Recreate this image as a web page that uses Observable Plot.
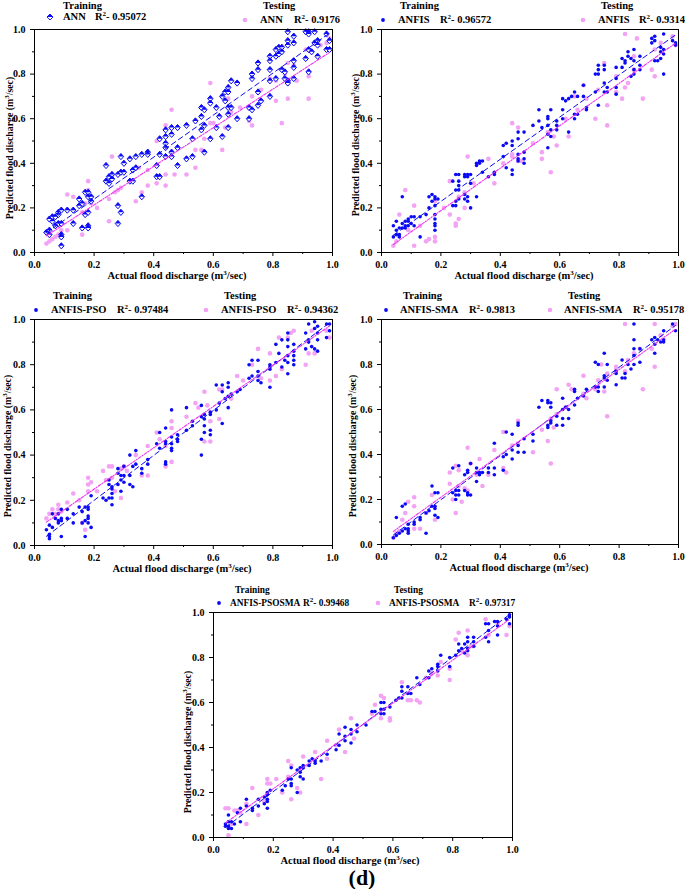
<!DOCTYPE html>
<html>
<head>
<meta charset="utf-8">
<script src="https://cdn.jsdelivr.net/npm/d3@7"></script>
<script src="https://cdn.jsdelivr.net/npm/@observablehq/plot@0.6"></script>
<style>
  html, body { margin: 0; padding: 0; background: #fff; }
  body { width: 685px; height: 889px; position: relative; overflow: hidden;
         font-family: "Liberation Serif", "Times New Roman", serif; font-weight: bold; color: #000; }
  .t { position: absolute; white-space: nowrap; font-size: 10.5px; line-height: 12px; transform: translateY(-50%); }
  .t.small { font-size: 9.4px; }
  .t sup { font-size: 7px; vertical-align: 4px; line-height: 0; }
  .ylab { position: absolute; white-space: nowrap; font-size: 9.8px; line-height: 10px; transform: translate(-50%, -50%) rotate(-90deg); }
  .xlab { position: absolute; white-space: nowrap; font-size: 10.5px; line-height: 10px; transform: translate(-50%, -50%); }
  .xlab sup, .ylab sup { font-size: 7px; vertical-align: 4px; line-height: 0; }
  svg.panel { position: absolute; }
  .mk { position: absolute; }
</style>
</head>
<body>
<script>
// ---------------- data ----------------
const modelNames = ["ANN", "ANFIS", "ANFIS-PSO", "ANFIS-SMA", "ANFIS-PSOSMA"];
const r2Train = ["0.95072", "0.96572", "0.97484", "0.9813", "0.99468"];
const r2Test = ["0.9176", "0.9314", "0.94362", "0.95178", "0.97317"];
const majorTicks = [0.0, 0.2, 0.4, 0.6, 0.8, 1.0];
const minorTicks = [0.1, 0.3, 0.5, 0.7, 0.9];

const annTrain = [[0.04,0.09],[0.05,0.10],[0.05,0.08],[0.05,0.15],[0.06,0.14],[0.06,0.16],[0.07,0.16],[0.07,0.12],[0.08,0.17],[0.08,0.13],[0.08,0.18],[0.09,0.19],[0.09,0.13],[0.09,0.08],[0.09,0.07],[0.09,0.03],[0.11,0.19],[0.13,0.19],[0.13,0.13],[0.15,0.21],[0.15,0.24],[0.16,0.22],[0.16,0.11],[0.17,0.27],[0.17,0.17],[0.18,0.27],[0.18,0.25],[0.18,0.18],[0.18,0.12],[0.18,0.11],[0.19,0.25],[0.19,0.23],[0.24,0.32],[0.24,0.39],[0.25,0.31],[0.25,0.34],[0.26,0.35],[0.26,0.33],[0.28,0.35],[0.28,0.21],[0.28,0.13],[0.29,0.43],[0.29,0.36],[0.29,0.18],[0.30,0.40],[0.30,0.36],[0.32,0.42],[0.32,0.32],[0.33,0.32],[0.33,0.37],[0.34,0.43],[0.34,0.38],[0.36,0.44],[0.36,0.25],[0.38,0.45],[0.38,0.44],[0.41,0.39],[0.41,0.34],[0.42,0.51],[0.42,0.44],[0.42,0.34],[0.44,0.55],[0.44,0.52],[0.44,0.49],[0.44,0.47],[0.44,0.43],[0.46,0.56],[0.46,0.53],[0.46,0.45],[0.46,0.43],[0.48,0.56],[0.48,0.47],[0.48,0.39],[0.51,0.57],[0.51,0.42],[0.53,0.51],[0.53,0.43],[0.54,0.59],[0.56,0.65],[0.56,0.61],[0.56,0.55],[0.57,0.64],[0.57,0.57],[0.57,0.45],[0.59,0.69],[0.59,0.67],[0.59,0.51],[0.61,0.65],[0.61,0.56],[0.62,0.61],[0.63,0.70],[0.63,0.52],[0.64,0.72],[0.64,0.68],[0.65,0.74],[0.65,0.72],[0.65,0.65],[0.65,0.62],[0.65,0.56],[0.66,0.77],[0.66,0.65],[0.68,0.76],[0.68,0.60],[0.72,0.65],[0.72,0.60],[0.73,0.80],[0.73,0.78],[0.73,0.64],[0.75,0.85],[0.75,0.82],[0.75,0.72],[0.75,0.66],[0.76,0.68],[0.79,0.88],[0.79,0.86],[0.79,0.82],[0.79,0.77],[0.79,0.70],[0.81,0.91],[0.81,0.88],[0.81,0.78],[0.82,0.92],[0.82,0.89],[0.83,0.92],[0.83,0.90],[0.83,0.82],[0.84,0.81],[0.84,0.78],[0.85,0.99],[0.85,0.95],[0.85,0.93],[0.85,0.77],[0.85,0.76],[0.87,0.97],[0.87,0.94],[0.87,0.86],[0.87,0.83],[0.87,0.78],[0.91,0.99],[0.91,0.87],[0.92,0.99],[0.92,0.98],[0.92,0.91],[0.92,0.81],[0.93,0.90],[0.94,0.99],[0.94,0.94],[0.95,0.95],[0.95,0.93],[0.95,0.88],[0.98,0.98],[0.98,0.91],[0.99,0.95],[0.99,0.91]];
const annTest = [[0.04,0.04],[0.05,0.05],[0.06,0.06],[0.07,0.07],[0.08,0.08],[0.09,0.10],[0.11,0.26],[0.11,0.10],[0.13,0.25],[0.16,0.08],[0.16,0.18],[0.17,0.22],[0.18,0.32],[0.18,0.28],[0.19,0.22],[0.21,0.20],[0.25,0.24],[0.25,0.14],[0.26,0.43],[0.27,0.27],[0.28,0.28],[0.29,0.29],[0.32,0.42],[0.34,0.23],[0.35,0.38],[0.36,0.27],[0.38,0.37],[0.38,0.30],[0.41,0.31],[0.41,0.50],[0.44,0.57],[0.44,0.35],[0.44,0.30],[0.46,0.64],[0.47,0.35],[0.51,0.35],[0.54,0.38],[0.54,0.46],[0.56,0.46],[0.57,0.51],[0.59,0.76],[0.59,0.58],[0.60,0.58],[0.63,0.46],[0.64,0.56],[0.65,0.69],[0.66,0.63],[0.68,0.76],[0.69,0.65],[0.72,0.59],[0.73,0.57],[0.73,0.70],[0.75,0.72],[0.76,0.73],[0.79,0.78],[0.81,0.77],[0.81,0.68],[0.83,0.58],[0.84,0.80],[0.85,0.85],[0.85,0.69],[0.87,0.84],[0.88,0.77],[0.91,0.91],[0.92,0.69],[0.92,0.79],[0.93,0.90],[0.96,0.93],[0.98,0.94],[0.99,0.96]];

const anfisTrain = [[0.04,0.12],[0.04,0.07],[0.05,0.14],[0.05,0.10],[0.05,0.08],[0.06,0.08],[0.06,0.07],[0.06,0.11],[0.07,0.25],[0.07,0.13],[0.07,0.11],[0.08,0.14],[0.08,0.12],[0.08,0.11],[0.09,0.15],[0.09,0.14],[0.09,0.12],[0.10,0.16],[0.10,0.13],[0.11,0.16],[0.11,0.12],[0.13,0.16],[0.13,0.07],[0.15,0.17],[0.16,0.25],[0.16,0.20],[0.17,0.26],[0.17,0.23],[0.18,0.25],[0.18,0.24],[0.18,0.21],[0.18,0.17],[0.18,0.15],[0.18,0.13],[0.18,0.12],[0.18,0.10],[0.19,0.24],[0.24,0.32],[0.24,0.21],[0.25,0.35],[0.25,0.28],[0.25,0.23],[0.25,0.21],[0.26,0.35],[0.26,0.32],[0.26,0.30],[0.26,0.28],[0.26,0.24],[0.28,0.35],[0.28,0.34],[0.28,0.26],[0.28,0.24],[0.29,0.35],[0.29,0.34],[0.29,0.25],[0.29,0.23],[0.30,0.35],[0.30,0.31],[0.30,0.20],[0.32,0.40],[0.32,0.39],[0.32,0.25],[0.33,0.41],[0.33,0.40],[0.34,0.41],[0.34,0.36],[0.36,0.34],[0.38,0.36],[0.38,0.35],[0.41,0.48],[0.41,0.43],[0.42,0.49],[0.42,0.38],[0.44,0.50],[0.44,0.48],[0.44,0.37],[0.44,0.35],[0.46,0.54],[0.46,0.51],[0.46,0.44],[0.46,0.42],[0.46,0.41],[0.48,0.54],[0.48,0.45],[0.48,0.42],[0.48,0.40],[0.51,0.57],[0.53,0.64],[0.53,0.59],[0.54,0.56],[0.56,0.61],[0.56,0.60],[0.56,0.57],[0.56,0.53],[0.56,0.47],[0.57,0.64],[0.57,0.55],[0.57,0.52],[0.59,0.59],[0.59,0.57],[0.59,0.55],[0.61,0.69],[0.61,0.64],[0.61,0.60],[0.62,0.68],[0.63,0.69],[0.63,0.54],[0.64,0.70],[0.65,0.72],[0.65,0.62],[0.65,0.60],[0.66,0.70],[0.66,0.62],[0.68,0.75],[0.68,0.70],[0.69,0.65],[0.69,0.64],[0.72,0.80],[0.72,0.72],[0.73,0.84],[0.73,0.82],[0.73,0.80],[0.73,0.66],[0.75,0.84],[0.75,0.82],[0.75,0.76],[0.75,0.72],[0.76,0.74],[0.76,0.72],[0.79,0.83],[0.79,0.78],[0.79,0.74],[0.79,0.71],[0.81,0.87],[0.81,0.83],[0.82,0.86],[0.82,0.85],[0.83,0.90],[0.83,0.88],[0.84,0.87],[0.84,0.79],[0.85,0.91],[0.85,0.86],[0.85,0.82],[0.85,0.80],[0.87,0.88],[0.87,0.84],[0.87,0.82],[0.91,0.96],[0.91,0.94],[0.92,0.97],[0.92,0.95],[0.92,0.86],[0.93,0.86],[0.94,0.92],[0.94,0.90],[0.94,0.87],[0.95,0.98],[0.95,0.91],[0.95,0.89],[0.95,0.80],[0.98,0.95],[0.99,0.94],[0.99,0.93]];
const anfisTest = [[0.04,0.03],[0.05,0.05],[0.06,0.17],[0.08,0.28],[0.09,0.10],[0.11,0.21],[0.11,0.03],[0.13,0.12],[0.15,0.05],[0.16,0.06],[0.18,0.23],[0.18,0.07],[0.18,0.05],[0.21,0.20],[0.23,0.32],[0.23,0.17],[0.25,0.13],[0.25,0.12],[0.26,0.15],[0.26,0.25],[0.28,0.20],[0.28,0.27],[0.29,0.43],[0.31,0.31],[0.36,0.42],[0.38,0.31],[0.41,0.40],[0.44,0.58],[0.44,0.44],[0.44,0.43],[0.46,0.56],[0.46,0.41],[0.47,0.41],[0.51,0.49],[0.54,0.45],[0.54,0.42],[0.56,0.54],[0.57,0.36],[0.58,0.52],[0.59,0.48],[0.62,0.60],[0.63,0.52],[0.65,0.70],[0.66,0.64],[0.68,0.75],[0.69,0.69],[0.72,0.60],[0.73,0.73],[0.75,0.85],[0.76,0.66],[0.76,0.57],[0.79,0.79],[0.79,0.72],[0.81,0.69],[0.82,0.98],[0.82,0.74],[0.83,0.76],[0.85,0.88],[0.85,0.82],[0.86,0.96],[0.88,0.69],[0.91,0.82],[0.92,0.91],[0.92,0.79],[0.94,0.94],[0.98,0.97],[0.99,0.93]];

const psoTrain = [[0.04,0.07],[0.05,0.05],[0.05,0.04],[0.05,0.03],[0.05,0.09],[0.06,0.14],[0.06,0.08],[0.07,0.12],[0.08,0.11],[0.08,0.10],[0.08,0.14],[0.09,0.16],[0.09,0.12],[0.09,0.11],[0.09,0.04],[0.11,0.16],[0.11,0.12],[0.13,0.14],[0.13,0.10],[0.15,0.17],[0.16,0.15],[0.16,0.10],[0.17,0.17],[0.17,0.11],[0.17,0.04],[0.18,0.17],[0.18,0.16],[0.18,0.13],[0.18,0.12],[0.18,0.10],[0.19,0.22],[0.19,0.08],[0.23,0.21],[0.24,0.20],[0.25,0.29],[0.25,0.27],[0.25,0.21],[0.26,0.26],[0.26,0.25],[0.26,0.23],[0.26,0.21],[0.26,0.18],[0.28,0.34],[0.28,0.32],[0.28,0.27],[0.29,0.31],[0.29,0.29],[0.29,0.24],[0.30,0.35],[0.30,0.31],[0.30,0.28],[0.32,0.40],[0.32,0.31],[0.32,0.27],[0.33,0.35],[0.33,0.26],[0.34,0.42],[0.34,0.36],[0.36,0.34],[0.36,0.32],[0.38,0.38],[0.38,0.36],[0.41,0.45],[0.42,0.50],[0.42,0.43],[0.44,0.52],[0.44,0.46],[0.44,0.45],[0.44,0.37],[0.44,0.36],[0.46,0.60],[0.46,0.48],[0.46,0.45],[0.46,0.43],[0.46,0.42],[0.48,0.49],[0.48,0.47],[0.48,0.46],[0.51,0.61],[0.51,0.51],[0.53,0.55],[0.53,0.53],[0.56,0.62],[0.56,0.57],[0.56,0.47],[0.56,0.40],[0.57,0.58],[0.57,0.56],[0.57,0.53],[0.57,0.50],[0.59,0.59],[0.59,0.58],[0.59,0.51],[0.59,0.49],[0.61,0.71],[0.61,0.60],[0.62,0.63],[0.63,0.71],[0.63,0.68],[0.63,0.54],[0.64,0.65],[0.65,0.72],[0.65,0.70],[0.65,0.66],[0.65,0.61],[0.66,0.67],[0.68,0.68],[0.69,0.69],[0.72,0.80],[0.72,0.74],[0.73,0.82],[0.73,0.75],[0.75,0.82],[0.75,0.77],[0.75,0.75],[0.75,0.73],[0.76,0.72],[0.79,0.80],[0.79,0.79],[0.79,0.78],[0.79,0.70],[0.81,0.89],[0.81,0.81],[0.82,0.85],[0.83,0.91],[0.83,0.79],[0.84,0.82],[0.85,0.94],[0.85,0.91],[0.85,0.88],[0.85,0.84],[0.85,0.81],[0.85,0.76],[0.87,0.89],[0.87,0.86],[0.87,0.84],[0.87,0.82],[0.87,0.80],[0.91,0.94],[0.91,0.87],[0.92,0.98],[0.92,0.91],[0.92,0.90],[0.93,0.88],[0.94,0.99],[0.94,0.96],[0.94,0.87],[0.95,0.97],[0.95,0.94],[0.95,0.91],[0.95,0.86],[0.98,0.98],[0.98,0.92],[0.99,0.98],[0.99,0.95]];
const psoTest = [[0.04,0.12],[0.05,0.14],[0.06,0.16],[0.07,0.14],[0.08,0.18],[0.08,0.16],[0.09,0.15],[0.11,0.19],[0.13,0.23],[0.15,0.20],[0.16,0.10],[0.17,0.07],[0.18,0.30],[0.18,0.27],[0.18,0.24],[0.19,0.28],[0.21,0.24],[0.23,0.33],[0.24,0.29],[0.25,0.35],[0.26,0.35],[0.26,0.30],[0.27,0.24],[0.29,0.21],[0.29,0.34],[0.30,0.35],[0.31,0.33],[0.34,0.40],[0.36,0.31],[0.38,0.44],[0.38,0.31],[0.41,0.50],[0.42,0.47],[0.44,0.44],[0.44,0.35],[0.46,0.55],[0.46,0.52],[0.46,0.37],[0.51,0.57],[0.54,0.63],[0.55,0.61],[0.57,0.68],[0.57,0.46],[0.58,0.62],[0.59,0.55],[0.59,0.46],[0.62,0.56],[0.62,0.69],[0.63,0.69],[0.66,0.65],[0.68,0.75],[0.70,0.73],[0.73,0.80],[0.75,0.87],[0.76,0.74],[0.79,0.85],[0.79,0.73],[0.81,0.75],[0.82,0.92],[0.83,0.78],[0.85,0.92],[0.86,0.94],[0.87,0.95],[0.91,0.80],[0.92,0.85],[0.93,0.95],[0.94,0.85],[0.98,0.95],[0.99,0.92]];

const smaTrain = [[0.04,0.03],[0.05,0.04],[0.05,0.12],[0.06,0.05],[0.07,0.06],[0.07,0.17],[0.08,0.07],[0.08,0.18],[0.09,0.09],[0.09,0.07],[0.09,0.06],[0.09,0.05],[0.11,0.10],[0.11,0.09],[0.13,0.11],[0.13,0.12],[0.15,0.14],[0.15,0.05],[0.16,0.15],[0.17,0.17],[0.17,0.26],[0.18,0.23],[0.18,0.17],[0.18,0.16],[0.18,0.13],[0.19,0.23],[0.19,0.12],[0.24,0.34],[0.24,0.23],[0.25,0.24],[0.25,0.22],[0.25,0.20],[0.26,0.35],[0.26,0.24],[0.26,0.22],[0.28,0.31],[0.28,0.24],[0.29,0.33],[0.29,0.32],[0.29,0.22],[0.29,0.23],[0.30,0.36],[0.30,0.22],[0.32,0.34],[0.32,0.32],[0.32,0.28],[0.33,0.32],[0.33,0.31],[0.34,0.32],[0.36,0.34],[0.36,0.32],[0.38,0.45],[0.38,0.34],[0.38,0.31],[0.41,0.33],[0.41,0.39],[0.42,0.50],[0.42,0.40],[0.44,0.49],[0.44,0.42],[0.44,0.38],[0.46,0.54],[0.46,0.53],[0.46,0.44],[0.46,0.41],[0.48,0.47],[0.48,0.41],[0.51,0.49],[0.51,0.46],[0.53,0.61],[0.54,0.64],[0.56,0.64],[0.56,0.63],[0.56,0.53],[0.56,0.52],[0.57,0.63],[0.57,0.61],[0.57,0.55],[0.57,0.54],[0.59,0.57],[0.59,0.53],[0.61,0.65],[0.61,0.60],[0.61,0.56],[0.61,0.53],[0.62,0.61],[0.63,0.60],[0.63,0.56],[0.65,0.69],[0.65,0.68],[0.65,0.62],[0.66,0.65],[0.68,0.66],[0.69,0.69],[0.72,0.81],[0.72,0.70],[0.73,0.80],[0.73,0.68],[0.73,0.70],[0.75,0.85],[0.75,0.75],[0.75,0.74],[0.75,0.70],[0.76,0.80],[0.76,0.73],[0.79,0.77],[0.79,0.76],[0.79,0.71],[0.81,0.82],[0.81,0.74],[0.82,0.76],[0.82,0.74],[0.83,0.80],[0.84,0.78],[0.85,0.98],[0.85,0.91],[0.85,0.87],[0.85,0.84],[0.85,0.80],[0.87,0.87],[0.87,0.81],[0.91,0.91],[0.92,0.92],[0.92,0.89],[0.92,0.85],[0.93,0.91],[0.94,0.90],[0.95,0.95],[0.95,0.91],[0.95,0.90],[0.98,0.98],[0.99,0.95]];
const smaTest = [[0.04,0.03],[0.05,0.05],[0.06,0.06],[0.07,0.11],[0.08,0.14],[0.09,0.19],[0.11,0.21],[0.11,0.17],[0.11,0.07],[0.13,0.07],[0.15,0.14],[0.17,0.22],[0.18,0.11],[0.23,0.32],[0.23,0.27],[0.24,0.20],[0.25,0.14],[0.25,0.35],[0.26,0.33],[0.26,0.26],[0.27,0.19],[0.28,0.25],[0.29,0.43],[0.29,0.24],[0.30,0.36],[0.32,0.31],[0.33,0.38],[0.34,0.26],[0.36,0.31],[0.38,0.42],[0.41,0.50],[0.41,0.34],[0.42,0.32],[0.44,0.44],[0.46,0.55],[0.46,0.45],[0.51,0.41],[0.54,0.51],[0.56,0.46],[0.57,0.56],[0.57,0.36],[0.58,0.52],[0.59,0.69],[0.59,0.58],[0.62,0.61],[0.63,0.71],[0.64,0.69],[0.68,0.75],[0.68,0.67],[0.69,0.65],[0.72,0.69],[0.73,0.73],[0.74,0.80],[0.75,0.68],[0.76,0.76],[0.76,0.57],[0.79,0.78],[0.79,0.79],[0.82,0.98],[0.82,0.77],[0.83,0.82],[0.85,0.85],[0.87,0.87],[0.88,0.69],[0.91,0.87],[0.92,0.98],[0.92,0.79],[0.94,0.93],[0.98,0.97],[0.99,0.98]];

const psosmaTrain = [[0.04,0.06],[0.04,0.05],[0.05,0.10],[0.05,0.07],[0.05,0.05],[0.05,0.04],[0.06,0.07],[0.06,0.04],[0.07,0.06],[0.08,0.11],[0.09,0.13],[0.09,0.07],[0.11,0.17],[0.11,0.14],[0.13,0.13],[0.13,0.12],[0.15,0.14],[0.15,0.17],[0.17,0.15],[0.17,0.18],[0.18,0.20],[0.18,0.19],[0.18,0.17],[0.18,0.16],[0.18,0.13],[0.19,0.21],[0.23,0.21],[0.24,0.23],[0.25,0.26],[0.26,0.31],[0.26,0.26],[0.26,0.24],[0.26,0.23],[0.28,0.30],[0.28,0.20],[0.29,0.31],[0.29,0.29],[0.29,0.27],[0.30,0.32],[0.30,0.31],[0.30,0.26],[0.32,0.34],[0.32,0.32],[0.33,0.35],[0.34,0.33],[0.34,0.34],[0.36,0.34],[0.38,0.37],[0.41,0.39],[0.42,0.46],[0.42,0.41],[0.44,0.49],[0.44,0.45],[0.44,0.43],[0.46,0.48],[0.46,0.46],[0.46,0.42],[0.48,0.50],[0.48,0.47],[0.51,0.50],[0.53,0.56],[0.54,0.56],[0.56,0.60],[0.56,0.57],[0.56,0.55],[0.57,0.60],[0.57,0.57],[0.57,0.55],[0.59,0.58],[0.61,0.61],[0.62,0.62],[0.63,0.67],[0.63,0.65],[0.63,0.62],[0.65,0.67],[0.65,0.64],[0.66,0.64],[0.68,0.71],[0.69,0.68],[0.72,0.74],[0.72,0.71],[0.73,0.75],[0.75,0.77],[0.75,0.76],[0.75,0.74],[0.76,0.81],[0.79,0.80],[0.79,0.76],[0.81,0.81],[0.82,0.86],[0.82,0.83],[0.83,0.84],[0.84,0.86],[0.84,0.82],[0.85,0.89],[0.85,0.87],[0.85,0.84],[0.85,0.83],[0.87,0.89],[0.87,0.87],[0.87,0.85],[0.91,0.95],[0.91,0.89],[0.92,0.95],[0.92,0.92],[0.92,0.87],[0.94,0.96],[0.95,0.96],[0.95,0.94],[0.95,0.90],[0.98,0.97],[0.99,0.99],[0.99,0.98],[0.99,0.95]];
const psosmaTest = [[0.04,0.13],[0.05,0.13],[0.05,0.01],[0.06,0.06],[0.07,0.12],[0.08,0.12],[0.09,0.11],[0.11,0.15],[0.11,0.06],[0.13,0.22],[0.15,0.10],[0.17,0.16],[0.18,0.26],[0.18,0.24],[0.19,0.24],[0.21,0.26],[0.23,0.20],[0.25,0.34],[0.25,0.27],[0.26,0.17],[0.26,0.32],[0.28,0.22],[0.29,0.20],[0.30,0.36],[0.34,0.38],[0.36,0.26],[0.38,0.43],[0.38,0.35],[0.41,0.41],[0.42,0.48],[0.44,0.38],[0.46,0.53],[0.47,0.44],[0.53,0.55],[0.54,0.59],[0.56,0.63],[0.56,0.53],[0.57,0.62],[0.59,0.53],[0.59,0.52],[0.63,0.69],[0.65,0.61],[0.66,0.61],[0.68,0.61],[0.69,0.60],[0.71,0.71],[0.73,0.73],[0.75,0.72],[0.76,0.78],[0.79,0.75],[0.79,0.70],[0.81,0.88],[0.82,0.91],[0.83,0.83],[0.85,0.92],[0.85,0.81],[0.86,0.85],[0.87,0.85],[0.91,0.97],[0.92,0.90],[0.95,0.95],[0.98,0.90],[0.99,0.94]];

const trainSets = [annTrain, anfisTrain, psoTrain, smaTrain, psosmaTrain];
const testSets = [annTest, anfisTest, psoTest, smaTest, psosmaTest];

// ---------------- styling / layout ----------------
const BLUE = "#0a0af5";
const PINK = "#f3a3f3";
const MAGENTA = "#ee33ee";

const diamondFull = { draw(ctx, size) { const r = Math.sqrt(size / Math.PI); const h = r * 1.15, w = r * 1.0;
  ctx.moveTo(0, -h); ctx.lineTo(w, 0); ctx.lineTo(0, h); ctx.lineTo(-w, 0); ctx.closePath(); } };
const diamondTop = { draw(ctx, size) { const r = Math.sqrt(size / Math.PI); const h = r * 1.15, w = r * 1.0;
  ctx.moveTo(0, -h); ctx.lineTo(w, 0); ctx.lineTo(-w, 0); ctx.closePath(); } };

// frame box of each panel [x0, x1, y0, y1] in page pixels
const layout = [
  { frame: [34, 332, 29, 252], ylab: [9.5, 148], xlab: [177, 276], small: false,
    tTitle: [63, 6], tMark: [50, 17], tName: [63, 17], tR: [95, 17],
    sTitle: [263, 6], sMark: [245, 20], sName: [260, 20], sR: [294, 20] },
  { frame: [381, 678, 29, 252], ylab: [356, 145], xlab: [524, 276], small: false,
    tTitle: [400, 6], tMark: [383, 20], tName: [398, 20], tR: [440, 20],
    sTitle: [601, 6], sMark: [583, 20], sName: [598, 20], sR: [639, 20] },
  { frame: [34, 332, 319, 545], ylab: [8, 446], xlab: [182, 569], small: false,
    tTitle: [53, 296], tMark: [36, 310], tName: [51, 310], tR: [117, 310],
    sTitle: [224, 296], sMark: [206, 310], sName: [221, 310], sR: [287, 310] },
  { frame: [381, 678, 319, 544], ylab: [353, 446], xlab: [519, 568], small: false,
    tTitle: [403, 296], tMark: [386, 310], tName: [400, 310], tR: [469, 310],
    sTitle: [568, 296], sMark: [550, 310], sName: [564, 310], sR: [633, 310] },
  { frame: [213, 512, 612, 837], ylab: [187.5, 742], xlab: [350, 861], small: true,
    tTitle: [235, 590], tMark: [219, 603], tName: [230, 603], tR: [303, 603],
    sTitle: [394, 590], sMark: [378, 603], sName: [389, 603], sR: [469, 603] }
];

const fmt = d3.format(".1f");
const X = d => d[0], Y = d => d[1];

function addText(html, [x, y], cls = "t", extra = {}) {
  const el = document.createElement("div");
  el.className = cls;
  el.innerHTML = html;
  el.style.left = x + "px";
  el.style.top = y + "px";
  Object.assign(el.style, extra);
  document.body.appendChild(el);
  return el;
}

function addMarker([x, y], kind) {
  const ns = "http://www.w3.org/2000/svg";
  const svg = document.createElementNS(ns, "svg");
  svg.setAttribute("width", 10); svg.setAttribute("height", 10);
  svg.setAttribute("class", "mk");
  svg.style.left = (x - 5) + "px"; svg.style.top = (y - 5) + "px";
  if (kind === "diamond") {
    svg.innerHTML = `<path d="M5,2 L8,5 L5,8 L2,5 Z" fill="white" stroke="${BLUE}" stroke-width="0.9"/><path d="M5,2 L8,5 L2,5 Z" fill="${BLUE}"/>`;
  } else if (kind === "train") {
    svg.innerHTML = `<circle cx="5" cy="5" r="1.9" fill="${BLUE}"/>`;
  } else {
    svg.innerHTML = `<circle cx="5" cy="5" r="2.3" fill="${PINK}"/>`;
  }
  document.body.appendChild(svg);
}

layout.forEach((L, i) => {
  const [x0, x1, y0, y1] = L.frame;
  const mL = 36, mR = 7, mT = 6, mB = 34;
  const left = x0 - mL, top = y0 - mT;
  const width = x1 - x0 + mL + mR, height = y1 - y0 + mT + mB;
  const train = trainSets[i], test = testSets[i];
  const trainMarks = i === 0
    ? [Plot.dot(train, { x: X, y: Y, symbol: diamondFull, r: 2.7, fill: "white", stroke: BLUE, strokeWidth: 1 }),
       Plot.dot(train, { x: X, y: Y, symbol: diamondTop, r: 2.7, fill: BLUE, stroke: "none" })]
    : [Plot.dot(train, { x: X, y: Y, r: 1.8, fill: BLUE, stroke: "none" })];
  const chart = Plot.plot({
    width, height, marginLeft: mL, marginRight: mR, marginTop: mT, marginBottom: mB,
    x: { domain: [0, 1] },
    y: { domain: [0, 1] },
    style: { fontFamily: "'Liberation Serif', 'Times New Roman', serif", fontWeight: "bold", fontSize: "10px", background: "white", color: "black", overflow: "visible" },
    marks: [
      Plot.dot(test, { x: X, y: Y, r: 2.3, fill: PINK, stroke: "none" }),
      ...trainMarks,
      Plot.linearRegressionY(train, { x: X, y: Y, stroke: BLUE, strokeWidth: 1, strokeDasharray: "5,3.5", ci: 0 }),
      Plot.linearRegressionY(test, { x: X, y: Y, stroke: MAGENTA, strokeWidth: 1.1, strokeDasharray: "3,1.5,1,1.5", ci: 0 }),
      Plot.frame({ stroke: "black", strokeWidth: 1 }),
      Plot.axisX({ ticks: majorTicks, tickFormat: fmt, tickSize: 4, tickPadding: 4, label: null }),
      Plot.axisX({ ticks: minorTicks, tickFormat: () => "", tickSize: 2, label: null }),
      Plot.axisY({ ticks: majorTicks, tickFormat: fmt, tickSize: 4, tickPadding: 5, label: null }),
      Plot.axisY({ ticks: minorTicks, tickFormat: () => "", tickSize: 2, label: null })
    ]
  });
  chart.classList.add("panel");
  chart.style.left = left + "px";
  chart.style.top = top + "px";
  chart.style.position = "absolute";
  document.body.appendChild(chart);

  addText("Predicted flood discharge (m<sup>3</sup>/sec)", L.ylab, "ylab");
  addText("Actual flood discharge (m<sup>3</sup>/sec)", L.xlab, "xlab");

  const cls = L.small ? "t small" : "t";
  addText("Training", L.tTitle, cls);
  addMarker(L.tMark, i === 0 ? "diamond" : "train");
  addText(modelNames[i], L.tName, cls);
  addText(`R<sup>2</sup>- ${r2Train[i]}`, L.tR, cls);

  addText("Testing", L.sTitle, cls);
  addMarker(L.sMark, "test");
  addText(modelNames[i], L.sName, cls);
  addText(`R<sup>2</sup>- ${r2Test[i]}`, L.sR, cls);
});

addText("(d)", [362, 878], "xlab", { fontSize: "22px", lineHeight: "18px" });
</script>
</body>
</html>
